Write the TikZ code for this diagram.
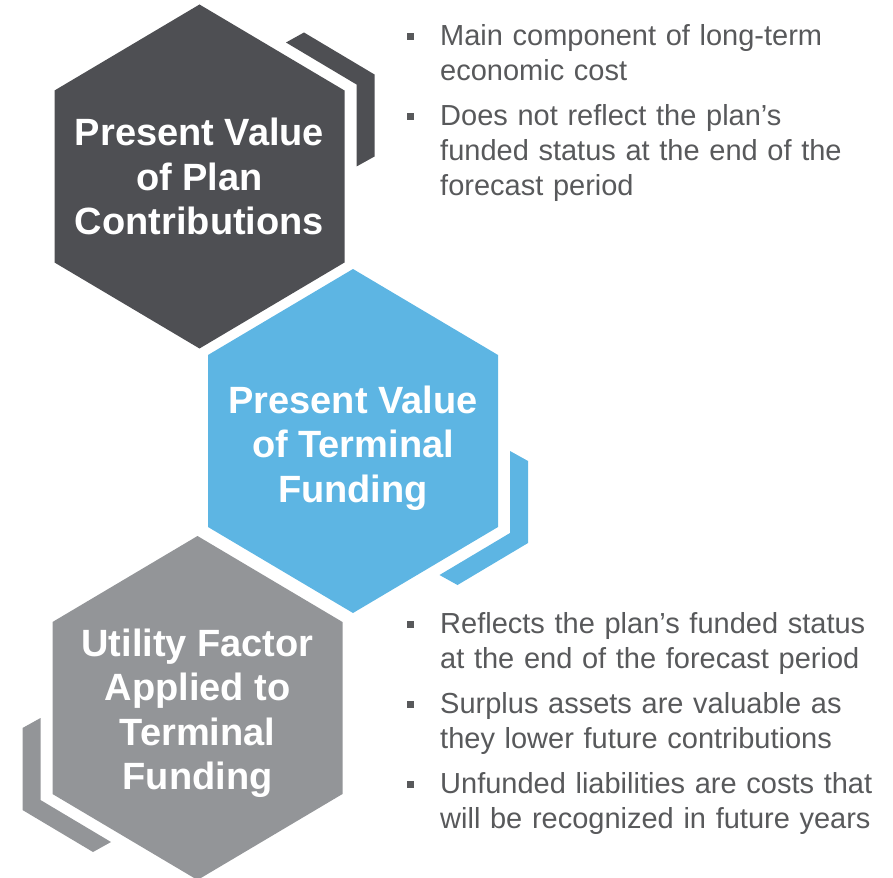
\documentclass[tikz,border=0pt]{standalone}
\usepackage{fontspec}
\setmainfont{Liberation Sans}
\usetikzlibrary{positioning}
\definecolor{hexdark}{RGB}{78,79,83}
\definecolor{hexblue}{RGB}{93,181,227}
\definecolor{hexgray}{RGB}{147,149,152}
\definecolor{txtgray}{RGB}{88,89,91}
\newcommand{\sqbul}{\leavevmode\strut\llap{\textcolor{txtgray}{\rule[5pt]{7.5pt}{7.5pt}}\hspace{26pt}}}
\tikzset{
  hexcell/.pic={
    \fill (0,-172) -- (145,-86) -- (145,86) -- (0,172) -- (-145,86) -- (-145,-86) -- cycle;
    \fill (104.5,-144) -- (175,-102) -- (175,-20) -- (157,-10) -- (157,-92) -- (86.5,-134) -- cycle;
  },
  hexlabel/.style={text=white, align=center, inner sep=0pt,
    font=\fontsize{38}{44.5}\selectfont\bfseries},
  ptlist/.style={text=txtgray, text width=452pt, align=left, inner sep=0pt,
    anchor=north west,
    font=\fontsize{29}{35}\selectfont\setlength{\parskip}{10pt}\setlength{\parindent}{0pt}}
}
\begin{document}
\begin{tikzpicture}[x=1pt, y=-1pt]
  \useasboundingbox (0,0) rectangle (893,877);
  \coordinate (pvc) at (199.5,176.5);
  \coordinate[below right=264.5pt and 153.5pt of pvc] (pvt);
  \coordinate[below left=267pt and 155.5pt of pvt] (uft);

  \pic[color=hexdark] at (pvc) {hexcell};
  \pic[color=hexblue, yscale=-1] at (pvt) {hexcell};
  \pic[color=hexgray, rotate=180] at (uft) {hexcell};

  \node[hexlabel] (pvcText) at (pvc) {Present Value\\of Plan\\Contributions};
  \node[hexlabel, yshift=-7pt] (pvtText) at (pvt) {Present Value\\of Terminal\\Funding};
  \node[hexlabel, yshift=-5pt] (uftText) at (uft) {Utility Factor\\Applied to\\Terminal\\Funding};

  \node[ptlist] (topPts) at (440,20.5) {%
    \sqbul Main component of long-term\\economic cost\par
    \sqbul Does not reflect the plan’s\\funded status at the end of the\\forecast period};
  \node[ptlist] (botPts) at (440,608.5) {%
    \sqbul Reflects the plan’s funded status\\at the end of the forecast period\par
    \sqbul Surplus assets are valuable as\\they lower future contributions\par
    \sqbul Unfunded liabilities are costs that\\will be recognized in future years};
\end{tikzpicture}
\end{document}
